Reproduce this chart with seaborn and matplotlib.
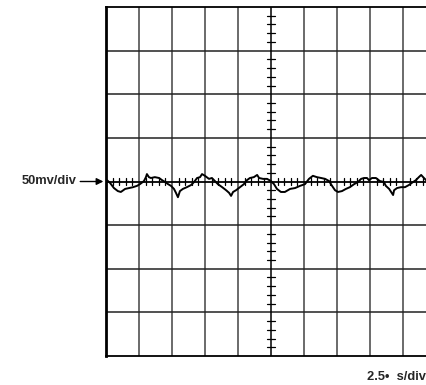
import numpy as np
import pandas as pd
import matplotlib
matplotlib.use("Agg")
import matplotlib.pyplot as plt
import seaborn as sns

# Trace values (x in divisions, y in divisions)
time_div = [0.03, 0.12, 0.24, 0.36, 0.45, 0.58, 0.70, 0.82, 0.94, 1.03, 1.15, 1.21, 1.24, 1.30, 1.36,
            1.48, 1.61, 1.70, 1.79, 1.88, 1.97, 2.06, 2.12, 2.18, 2.24, 2.33, 2.45, 2.58, 2.67, 2.76,
            2.85, 2.91, 3.00, 3.12, 3.21, 3.30, 3.39, 3.52, 3.64, 3.73, 3.79, 3.85, 3.94, 4.06, 4.18,
            4.27, 4.36, 4.48, 4.58, 4.64, 4.76, 4.88, 5.00, 5.09, 5.18, 5.30, 5.42, 5.58, 5.73, 5.88,
            6.03, 6.15, 6.27, 6.39, 6.52, 6.64, 6.76, 6.85, 6.94, 7.03, 7.15, 7.27, 7.39, 7.52, 7.64,
            7.73, 7.82, 7.91, 7.97, 8.06, 8.18, 8.30, 8.42, 8.48, 8.58, 8.64, 8.70, 8.73, 8.82, 8.94,
            9.06, 9.18, 9.27, 9.39, 9.48, 9.55, 9.61, 9.70, 9.76]
volt_div = [0.03, -0.03, -0.15, -0.22, -0.24, -0.17, -0.15, -0.13, -0.10, -0.06, 0.01, 0.10, 0.17, 0.10, 0.08,
            0.10, 0.08, 0.03, -0.01, -0.06, -0.10, -0.17, -0.26, -0.36, -0.22, -0.17, -0.13, -0.08, -0.01, 0.08,
            0.10, 0.17, 0.13, 0.06, 0.08, 0.01, -0.06, -0.13, -0.20, -0.26, -0.33, -0.24, -0.20, -0.13, -0.06,
            0.03, 0.08, 0.10, 0.15, 0.08, 0.06, 0.06, 0.01, -0.06, -0.17, -0.24, -0.24, -0.17, -0.15, -0.10,
            -0.06, 0.06, 0.13, 0.10, 0.08, 0.06, 0.01, -0.10, -0.20, -0.24, -0.22, -0.17, -0.13, -0.06, -0.01,
            0.06, 0.08, 0.08, 0.03, 0.08, 0.08, 0.01, -0.01, -0.10, -0.17, -0.24, -0.31, -0.20, -0.15, -0.13,
            -0.13, -0.08, -0.03, 0.03, 0.10, 0.15, 0.10, 0.03, 0.01]

v_label = "50mv/div"
h_label = "2.5\u2022  s/div"

sns.set_style("white")
plt.rcParams['font.family'] = ['Liberation Sans', 'DejaVu Sans']
fs = 9.3

fig = plt.figure(figsize=(4.27, 3.85), dpi=100)
ax = fig.add_axes([106 / 427, 29 / 385, 330 / 427, 349 / 385])
ax.set_xlim(0, 10)
ax.set_ylim(-4, 4)

# grid
for x in range(1, 10):
    if x == 5:
        continue
    ax.axvline(x, color="#6a6a6a", lw=1.4, zorder=1)
for y in range(-3, 4):
    if y == 0:
        continue
    ax.axhline(y, color="#222222", lw=1.1, zorder=1)
ax.axvline(5, color="black", lw=1.1, zorder=2)
ax.axhline(0, color="black", lw=1.3, zorder=2)

# minor ticks on the centre lines
for i in range(1, 50):
    if i % 5 == 0:
        continue
    xv = i * 0.2
    ax.plot([xv, xv], [-0.09, 0.09], color="black", lw=0.9, zorder=2)
for i in range(1, 40):
    if i % 5 == 0:
        continue
    yv = -4 + i * 0.2
    ax.plot([4.88, 5.12], [yv, yv], color="black", lw=0.9, zorder=2)

df = pd.DataFrame({"t": time_div, "v": volt_div})
sns.lineplot(data=df, x="t", y="v", ax=ax, color="black", lw=1.4, zorder=3)

for s in ["left", "top", "bottom"]:
    ax.spines[s].set_visible(True)
    ax.spines[s].set_color("black")
ax.spines["left"].set_linewidth(2.0)
ax.spines["top"].set_linewidth(1.3)
ax.spines["bottom"].set_linewidth(1.3)
ax.spines["right"].set_visible(False)
ax.set_xticks([])
ax.set_yticks([])
ax.set_xlabel("")
ax.set_ylabel("")

ax.annotate(v_label, xy=(-0.08, 0.0), xytext=(-0.88, 0.0), xycoords="data", textcoords="data",
            ha="right", va="center", fontsize=fs, fontweight="bold", annotation_clip=False,
            arrowprops=dict(arrowstyle="-|>", color="black", lw=1.0, mutation_scale=10, shrinkA=0, shrinkB=0))

fig.text(426 / 427, 1 - 377 / 385, h_label, ha="right", va="center", fontsize=fs, fontweight="bold")

fig.savefig("out.png", dpi=100)
